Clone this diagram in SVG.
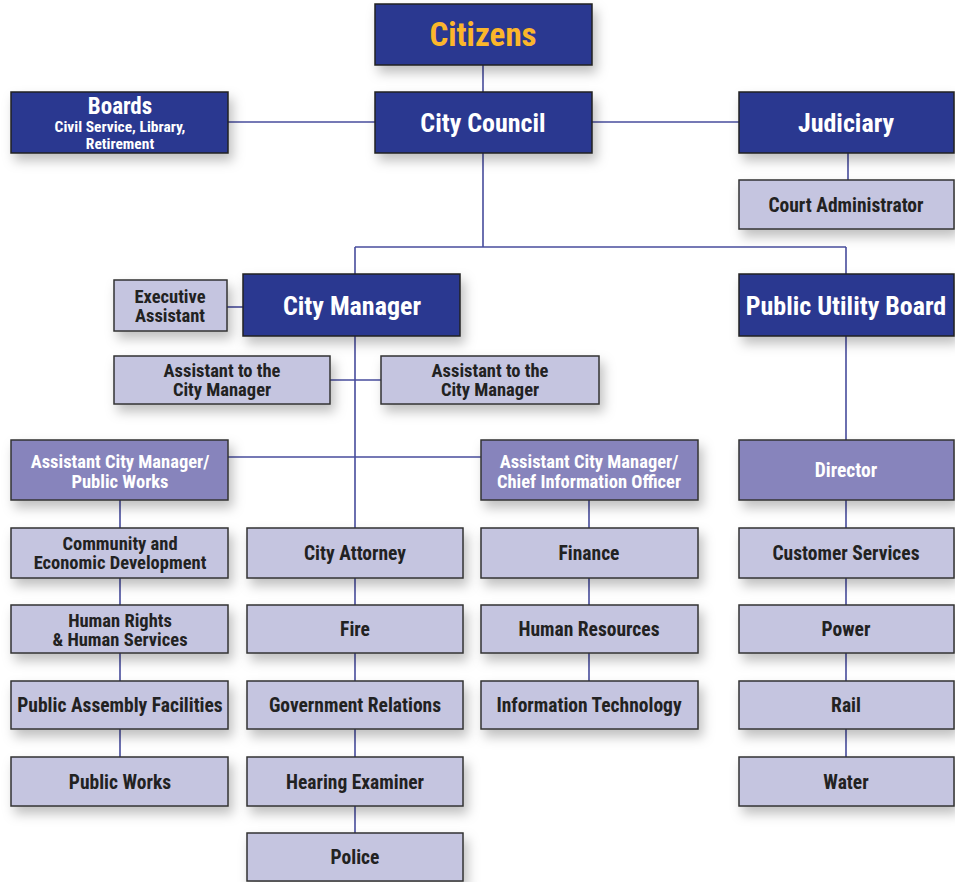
<svg xmlns="http://www.w3.org/2000/svg" width="955" height="882" viewBox="0 0 955 882">
<defs>
<filter id="sh" x="-20%" y="-30%" width="150%" height="180%">
<feDropShadow dx="4" dy="7" stdDeviation="6" flood-color="#000" flood-opacity="0.25"/>
</filter>
<style>
.dk{fill:#2b3990;stroke:#222;stroke-width:1.5;filter:url(#sh)}
.md{fill:#8784bc;stroke:#333;stroke-width:1.5;filter:url(#sh)}
.lt{fill:#c5c5e0;stroke:#333;stroke-width:1.5;filter:url(#sh)}
text{font-family:"Liberation Sans Narrow","Roboto Condensed","Liberation Sans",Arial,sans-serif;font-weight:bold;text-anchor:middle}
.tw{fill:#fff;font-size:26px}
.tm{fill:#fff;font-size:18.5px}
.tl{fill:#222;font-size:19.5px}
.t2{fill:#222;font-size:18.5px}
.ts{fill:#fff;font-size:15.5px}
.cit{fill:#fbb62b;font-size:33px}
#conn line{stroke:#474c9c;stroke-width:1.6}
</style>
</defs>
<rect width="955" height="882" fill="#fff"/>
<g id="conn">
<line x1="483" y1="65" x2="483" y2="92"/>
<line x1="228" y1="122" x2="375" y2="122"/>
<line x1="592" y1="122" x2="739" y2="122"/>
<line x1="848" y1="153" x2="848" y2="180"/>
<line x1="483" y1="153" x2="483" y2="247"/>
<line x1="355" y1="247" x2="846" y2="247"/>
<line x1="355" y1="247" x2="355" y2="274"/>
<line x1="846" y1="247" x2="846" y2="274"/>
<line x1="227" y1="307" x2="243" y2="307"/>
<line x1="355" y1="336" x2="355" y2="528"/>
<line x1="330" y1="380" x2="381" y2="380"/>
<line x1="228" y1="457" x2="481" y2="457"/>
<line x1="120" y1="500" x2="120" y2="757"/>
<line x1="355" y1="578" x2="355" y2="833"/>
<line x1="589" y1="500" x2="589" y2="681"/>
<line x1="846" y1="336" x2="846" y2="757"/>
</g>
<g id="citizens"><rect class="dk" x="375" y="4" width="217" height="61"/><text class="cit" x="483" y="46">Citizens</text></g>
<g id="council"><rect class="dk" x="375" y="92" width="217" height="61"/><text class="tw" x="483" y="132">City Council</text></g>
<g id="boards"><rect class="dk" x="11" y="92" width="217" height="61"/><text class="tw" x="120" y="114" style="font-size:23px">Boards</text><text class="ts" x="120" y="132">Civil Service, Library,</text><text class="ts" x="120" y="149">Retirement</text></g>
<g id="judiciary"><rect class="dk" x="739" y="92" width="215" height="61"/><text class="tw" x="846" y="132">Judiciary</text></g>
<g id="court"><rect class="lt" x="739" y="180" width="215" height="49"/><text class="tl" x="846" y="212">Court Administrator</text></g>
<g id="manager"><rect class="dk" x="243" y="274" width="217" height="62"/><text class="tw" x="352" y="315">City Manager</text></g>
<g id="pub"><rect class="dk" x="739" y="274" width="215" height="62"/><text class="tw" x="846" y="315">Public Utility Board</text></g>
<g id="exec"><rect class="lt" x="114" y="280" width="113" height="51"/><text class="t2" x="170" y="302.5">Executive</text><text class="t2" x="170" y="322">Assistant</text></g>
<g id="asst1"><rect class="lt" x="114" y="356" width="216" height="48"/><text class="t2" x="222" y="376.5">Assistant to the</text><text class="t2" x="222" y="396">City Manager</text></g>
<g id="asst2"><rect class="lt" x="381" y="356" width="218" height="48"/><text class="t2" x="490" y="376.5">Assistant to the</text><text class="t2" x="490" y="396">City Manager</text></g>
<g id="acmpw"><rect class="md" x="11" y="440" width="217" height="60"/><text class="tm" x="120" y="467.5">Assistant City Manager/</text><text class="tm" x="120" y="488">Public Works</text></g>
<g id="acmcio"><rect class="md" x="481" y="440" width="217" height="60"/><text class="tm" x="589" y="467.5">Assistant City Manager/</text><text class="tm" x="589" y="488">Chief Information Officer</text></g>
<g id="director"><rect class="md" x="739" y="440" width="215" height="60"/><text class="tm" x="846" y="477" style="font-size:19.5px">Director</text></g>
<g id="ced"><rect class="lt" x="11" y="528" width="217" height="50"/><text class="t2" x="120" y="549.5">Community and</text><text class="t2" x="120" y="569">Economic Development</text></g>
<g id="hr2"><rect class="lt" x="11" y="605" width="217" height="48"/><text class="t2" x="120" y="626.5">Human Rights</text><text class="t2" x="120" y="646">&amp; Human Services</text></g>
<g id="paf"><rect class="lt" x="11" y="681" width="217" height="48"/><text class="tl" x="120" y="712">Public Assembly Facilities</text></g>
<g id="pw"><rect class="lt" x="11" y="757" width="217" height="49"/><text class="tl" x="120" y="789">Public Works</text></g>
<g id="attorney"><rect class="lt" x="247" y="528" width="216" height="50"/><text class="tl" x="355" y="560">City Attorney</text></g>
<g id="fire"><rect class="lt" x="247" y="605" width="216" height="48"/><text class="tl" x="355" y="636">Fire</text></g>
<g id="gov"><rect class="lt" x="247" y="681" width="216" height="48"/><text class="tl" x="355" y="712">Government Relations</text></g>
<g id="hearing"><rect class="lt" x="247" y="757" width="216" height="49"/><text class="tl" x="355" y="789">Hearing Examiner</text></g>
<g id="police"><rect class="lt" x="247" y="833" width="216" height="48"/><text class="tl" x="355" y="864">Police</text></g>
<g id="finance"><rect class="lt" x="481" y="528" width="217" height="50"/><text class="tl" x="589" y="560">Finance</text></g>
<g id="hres"><rect class="lt" x="481" y="605" width="217" height="48"/><text class="tl" x="589" y="636">Human Resources</text></g>
<g id="it"><rect class="lt" x="481" y="681" width="217" height="48"/><text class="tl" x="589" y="712">Information Technology</text></g>
<g id="cs"><rect class="lt" x="739" y="528" width="215" height="50"/><text class="tl" x="846" y="560">Customer Services</text></g>
<g id="power"><rect class="lt" x="739" y="605" width="215" height="48"/><text class="tl" x="846" y="636">Power</text></g>
<g id="rail"><rect class="lt" x="739" y="681" width="215" height="48"/><text class="tl" x="846" y="712">Rail</text></g>
<g id="water"><rect class="lt" x="739" y="757" width="215" height="49"/><text class="tl" x="846" y="789">Water</text></g>
</svg>
